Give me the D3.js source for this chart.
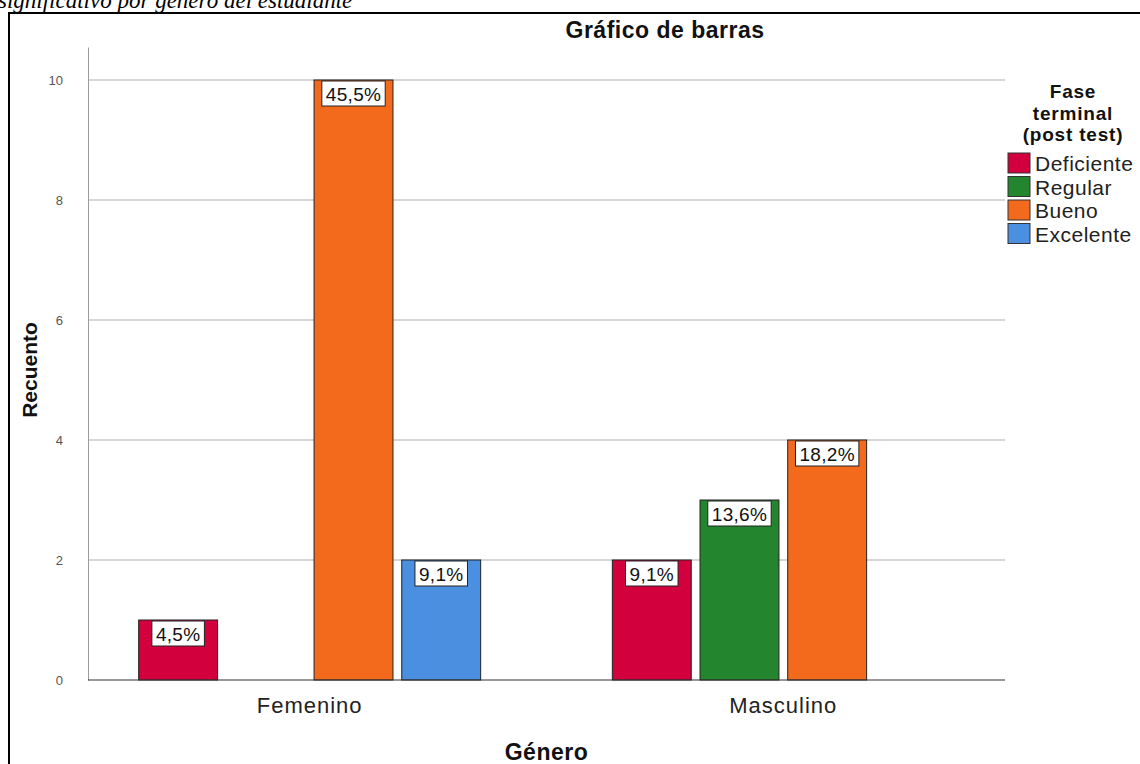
<!DOCTYPE html>
<html>
<head>
<meta charset="utf-8">
<script src="https://cdn.jsdelivr.net/npm/d3@7"></script>
<style>
  body { margin: 0; background: #fff; }
  svg { display: block; font-family: "Liberation Sans", Arial, sans-serif; }
</style>
</head>
<body>
<div id="chart-area"></div>
<script>
const W = 1140
const H = 764

// data
const genders = ["Femenino", "Masculino"]
const levels = ["Deficiente", "Regular", "Bueno", "Excelente"]
const femenino = [1, 0, 10, 2]
const masculino = [2, 3, 4, 0]
const yTicks = [0, 2, 4, 6, 8, 10]
const total = 22

const colors = {
	Deficiente: "#d2003c",
	Regular: "#23852d",
	Bueno: "#f46a1c",
	Excelente: "#4a8fe0"
}

const counts = { Femenino: femenino, Masculino: masculino }

const svg = d3.select("#chart-area").append("svg")
	.attr("width", W)
	.attr("height", H)

// caption cut off at the top
svg.append("text")
	.attr("x", -2)
	.attr("y", 8)
	.attr("font-family", "Liberation Serif, Times New Roman, serif")
	.attr("font-style", "italic")
	.attr("font-size", "23px")
	.attr("fill", "#000")
	.text("significativo por género del estudiante")

// frame
svg.append("rect")
	.attr("x", 9)
	.attr("y", 13)
	.attr("width", 1200)
	.attr("height", 900)
	.attr("fill", "#fff")
	.attr("stroke", "#000")
	.attr("stroke-width", 2)

const PLOT = { LEFT: 88, RIGHT: 1005, TOP: 47, BOTTOM: 680 }

// scales
const x = d3.scalePoint()
	.domain(genders)
	.range([PLOT.LEFT, PLOT.RIGHT])
	.padding(0.468)

const xInner = d3.scaleBand()
	.domain(levels)
	.range([-171, 171])
	.paddingInner(0.1)

const y = d3.scaleLinear()
	.domain([0, 10.55])
	.range([PLOT.BOTTOM, PLOT.TOP])

// gridlines
svg.append("g")
	.selectAll("line")
	.data(yTicks.filter(d => d > 0))
	.join("line")
	.attr("x1", PLOT.LEFT)
	.attr("x2", PLOT.RIGHT)
	.attr("y1", d => y(d))
	.attr("y2", d => y(d))
	.attr("stroke", "#c9c9c9")
	.attr("stroke-width", 1.3)

// y axis
const yAxis = svg.append("g")
	.attr("transform", `translate(${PLOT.LEFT}, 0)`)
	.call(d3.axisLeft(y).tickValues(yTicks).tickSize(0).tickPadding(25).tickFormat(d3.format("d")))
yAxis.select(".domain").attr("stroke", "#9a9a9a")
yAxis.selectAll("text")
	.attr("font-size", "13px")
	.attr("fill", "#555")
	.attr("font-family", "Liberation Sans, Arial, sans-serif")

// bars
const groups = svg.append("g")
	.selectAll("g")
	.data(genders)
	.join("g")
	.attr("transform", d => `translate(${x(d)}, 0)`)

const barData = g => levels.map((lv, i) => ({ gender: g, level: lv, value: counts[g][i] }))
	.filter(d => d.value > 0)

groups.selectAll("rect")
	.data(d => barData(d))
	.join("rect")
	.attr("x", d => xInner(d.level))
	.attr("y", d => y(d.value))
	.attr("width", xInner.bandwidth())
	.attr("height", d => y(0) - y(d.value))
	.attr("fill", d => colors[d.level])
	.attr("stroke", "#222")
	.attr("stroke-width", 1)

// value labels
const fmtPct = v => d3.format(".1f")(v / total * 100).replace(".", ",") + "%"

groups.each(function (gName) {
	const g = d3.select(this)
	barData(gName).forEach(d => {
		const cx = xInner(d.level) + xInner.bandwidth() / 2
		const top = y(d.value) + 1
		const box = g.append("rect")
			.attr("fill", "#fff")
			.attr("stroke", "#222")
			.attr("stroke-width", 1)
		const t = g.append("text")
			.attr("x", cx)
			.attr("y", top + 13)
			.attr("dy", "0.35em")
			.attr("text-anchor", "middle")
			.attr("font-size", "19px")
			.attr("letter-spacing", "0.3px")
			.attr("fill", "#111")
			.text(fmtPct(d.value))
		const len = t.node().getComputedTextLength()
		box.attr("x", cx - len / 2 - 4)
			.attr("y", top)
			.attr("width", len + 8)
			.attr("height", 25)
	})
})

// x axis
svg.append("line")
	.attr("x1", PLOT.LEFT)
	.attr("x2", PLOT.RIGHT)
	.attr("y1", y(0))
	.attr("y2", y(0))
	.attr("stroke", "#333")
	.attr("stroke-width", 1.2)

svg.append("g")
	.selectAll("text")
	.data(genders)
	.join("text")
	.attr("x", d => x(d))
	.attr("y", 713)
	.attr("text-anchor", "middle")
	.attr("font-size", "22px")
	.attr("letter-spacing", "1px")
	.attr("fill", "#222")
	.text(d => d)

// titles
svg.append("text")
	.attr("x", 665)
	.attr("y", 38)
	.attr("text-anchor", "middle")
	.attr("font-size", "23px")
	.attr("font-weight", "bold")
	.attr("letter-spacing", "0.5px")
	.attr("fill", "#111")
	.text("Gráfico de barras")

svg.append("text")
	.attr("x", (PLOT.LEFT + PLOT.RIGHT) / 2)
	.attr("y", 760)
	.attr("text-anchor", "middle")
	.attr("font-size", "23px")
	.attr("font-weight", "bold")
	.attr("letter-spacing", "0.5px")
	.attr("fill", "#111")
	.text("Género")

svg.append("text")
	.attr("transform", `translate(37, 370) rotate(-90)`)
	.attr("text-anchor", "middle")
	.attr("font-size", "21px")
	.attr("font-weight", "bold")
	.attr("fill", "#111")
	.text("Recuento")

// legend
const legend = svg.append("g")

legend.selectAll("text.lt")
	.data(["Fase", "terminal", "(post test)"])
	.join("text")
	.attr("class", "lt")
	.attr("x", 1073)
	.attr("y", (d, i) => 98 + i * 21.5)
	.attr("text-anchor", "middle")
	.attr("font-size", "19px")
	.attr("font-weight", "bold")
	.attr("letter-spacing", "0.8px")
	.attr("fill", "#111")
	.text(d => d)

const items = legend.selectAll("g.item")
	.data(levels)
	.join("g")
	.attr("class", "item")
	.attr("transform", (d, i) => `translate(1008, ${153 + i * 23.5})`)

items.append("rect")
	.attr("width", 22)
	.attr("height", 20)
	.attr("fill", d => colors[d])
	.attr("stroke", "#333")
	.attr("stroke-width", 1)

items.append("text")
	.attr("x", 27)
	.attr("y", 11)
	.attr("dy", "0.35em")
	.attr("font-size", "21px")
	.attr("letter-spacing", "0.5px")
	.attr("fill", "#222")
	.text(d => d)
</script>
</body>
</html>
